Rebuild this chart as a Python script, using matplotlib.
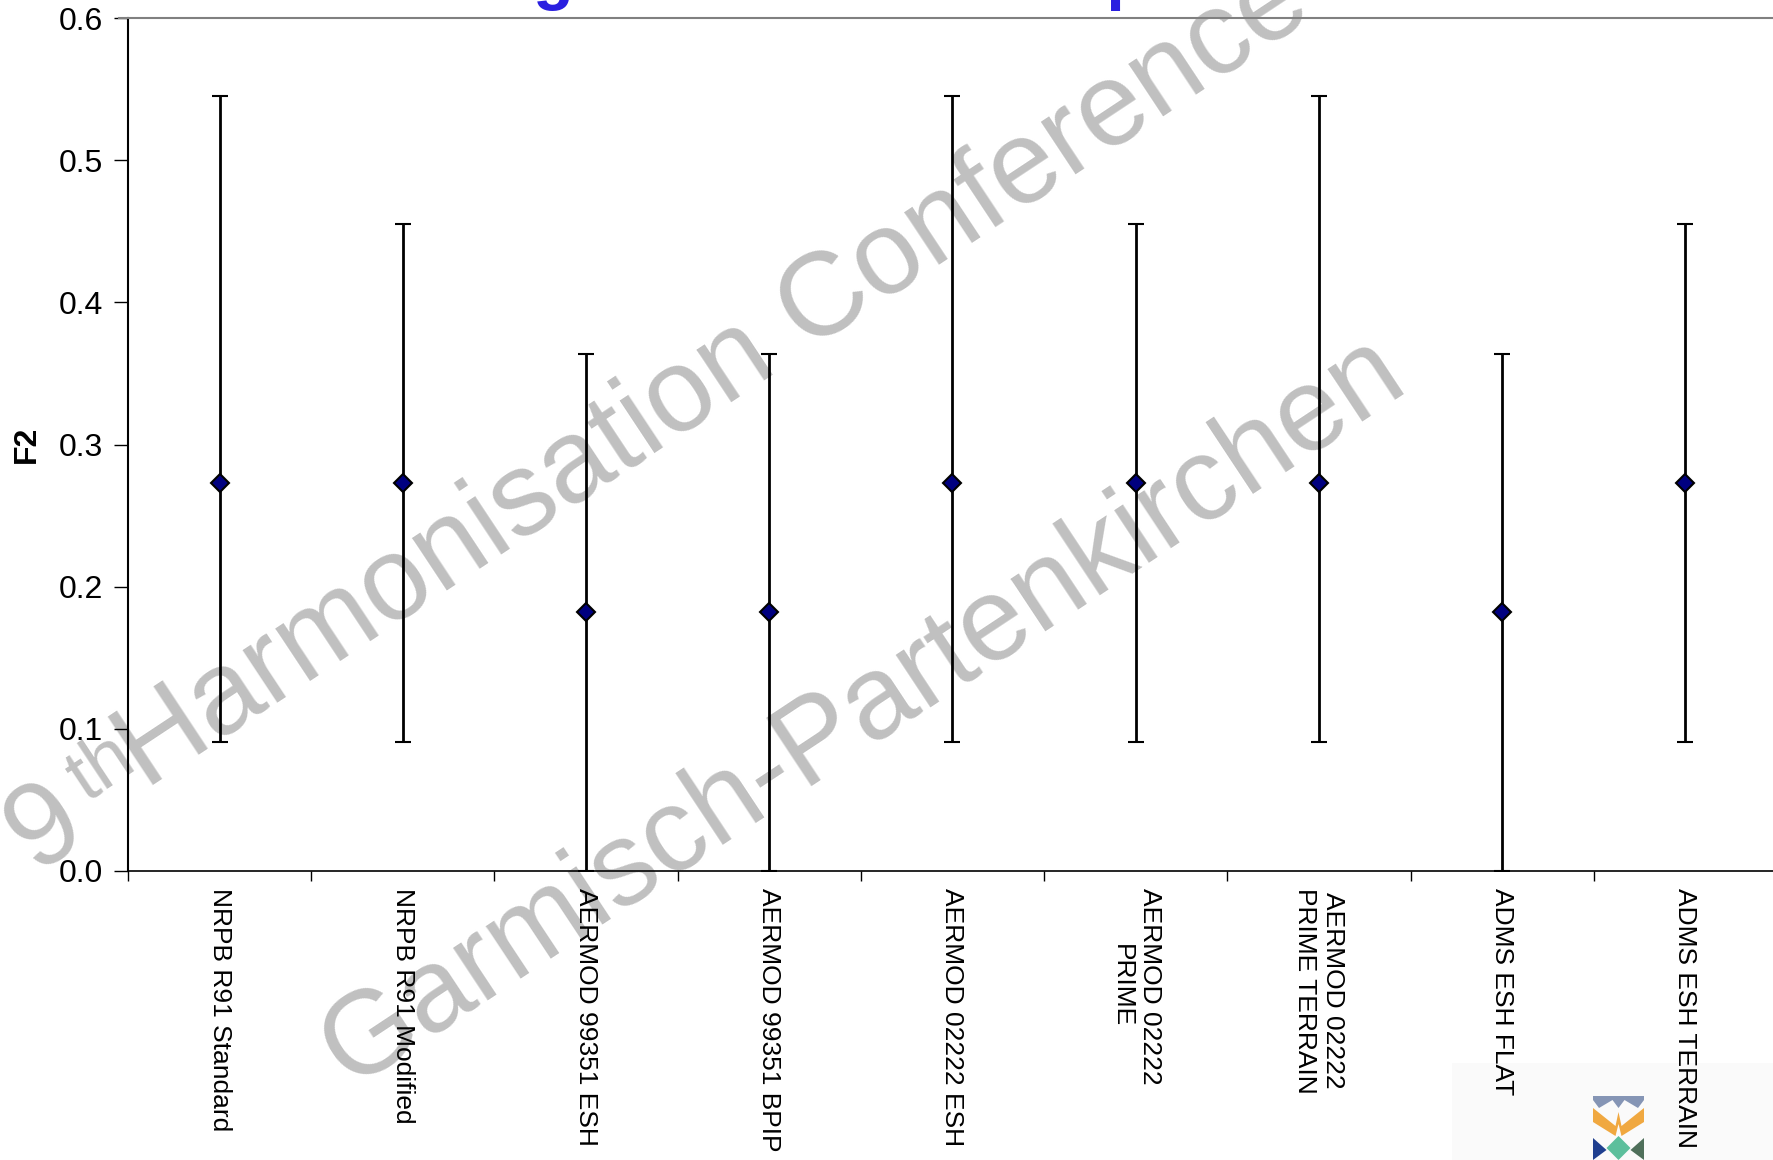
import matplotlib
matplotlib.use("Agg")
import matplotlib.pyplot as plt
import numpy as np
from matplotlib.patches import Rectangle, Polygon
from matplotlib.lines import Line2D

plt.rcParams['font.family'] = ['Liberation Sans', 'DejaVu Sans']

# model configurations and their F2 score with the interval limits
models = [
    'NRPB R91 Standard',
    'NRPB R91 Modified',
    'AERMOD 99351 ESH',
    'AERMOD 99351 BPIP',
    'AERMOD 02222 ESH',
    'AERMOD 02222\nPRIME',
    'AERMOD 02222\nPRIME TERRAIN',
    'ADMS ESH FLAT',
    'ADMS ESH TERRAIN',
]
f2 = [0.273, 0.273, 0.182, 0.182, 0.273, 0.273, 0.273, 0.182, 0.273]
f2_low = [0.091, 0.091, 0.0, 0.0, 0.091, 0.091, 0.091, 0.0, 0.091]
f2_high = [0.545, 0.455, 0.364, 0.364, 0.545, 0.455, 0.545, 0.364, 0.455]

W, H = 1774, 1160
fig = plt.figure(figsize=(W / 100, H / 100), dpi=100)


def fx(px):
    return px / W


def fy(py):
    return 1 - py / H


# slide heading, mostly cut off by the top edge
fig.text(fx(80), fy(-3), 'Measures of Agreement for Comparison of Results',
         color='#2a1fe0', fontsize=48, fontweight='bold',
         ha='left', va='baseline')

# conference watermark behind the chart
wm = dict(color='#c0c0c0', rotation=33.5, rotation_mode='anchor',
          ha='left', va='baseline', zorder=-1)
fig.text(fx(35), fy(872), '9', fontsize=85, **wm)
fig.text(fx(86), fy(802), 'th', fontsize=55, **wm)
fig.text(fx(145), fy(790), 'Harmonisation Conference', fontsize=85, **wm)
fig.text(fx(350), fy(1088), 'Garmisch-Partenkirchen', fontsize=85, **wm)

ax = fig.add_axes([fx(128), fy(871), fx(1777 - 128), (871 - 18) / H])
ax.patch.set_alpha(0)

x = np.arange(len(models))
yerr = [np.array(f2) - np.array(f2_low), np.array(f2_high) - np.array(f2)]
ax.errorbar(x, f2, yerr=yerr, fmt='D', color='black', ecolor='black',
            elinewidth=2, capsize=6, capthick=2,
            markersize=9, markerfacecolor='#000080', markeredgecolor='black',
            markeredgewidth=1.5)

ax.set_xlim(-0.5, len(models) - 0.5)
ax.set_ylim(0, 0.6)
ax.set_yticks(np.arange(0, 0.61, 0.1))
ax.yaxis.set_major_formatter(matplotlib.ticker.FormatStrFormatter('%.1f'))
ax.tick_params(axis='y', labelsize=23, length=10, width=1, direction='out', pad=8)

ax.set_xticks(x)
ax.set_xticklabels(models, rotation=270, ha='center', va='top',
                   multialignment='center', fontsize=19)
ax.tick_params(axis='x', which='major', length=0, pad=12)
ax.set_xticks(np.arange(-0.5, len(models), 1), minor=True)
ax.tick_params(axis='x', which='minor', length=7, width=1, direction='out')

ax.set_ylabel('F2', fontsize=23, fontweight='bold', labelpad=12)

ax.spines['left'].set_linewidth(1.5)
ax.spines['bottom'].set_linewidth(1.2)
ax.spines['top'].set_visible(False)
ax.spines['right'].set_visible(False)

# grey rule under the heading, running over the plot top
fig.add_artist(Line2D([fx(119), 1], [fy(18), fy(18)], color='#808080',
                      linewidth=1.5, zorder=5))

# logo panel at the bottom right
fig.patches.append(Rectangle((fx(1452), 0), fx(W - 1452), (H - 1063) / H,
                             transform=fig.transFigure, facecolor='#fafafa',
                             edgecolor='none', zorder=-2))
lx0, lx1 = 1593, 1644
lm = (lx0 + lx1) / 2


def poly(pts, color):
    fig.patches.append(Polygon([(fx(a), fy(b)) for a, b in pts], closed=True,
                               transform=fig.transFigure, facecolor=color,
                               edgecolor='none', zorder=3))


poly([(lx0, 1096), (lx1, 1096), (lx1, 1100), (lx1 - 6, 1108), (lm + 6, 1100),
      (lm, 1108), (lm - 6, 1100), (lx0 + 6, 1108), (lx0, 1100)], '#8595b5')
poly([(lx0, 1108), (lm - 3, 1126), (lm, 1112), (lm + 3, 1126), (lx1, 1108),
      (lx1, 1122), (lm + 3, 1136), (lm, 1124), (lm - 3, 1136), (lx0, 1122)],
     '#f0a840')
poly([(lx0, 1138), (lm - 12, 1150), (lx0, 1160)], '#1f3f8f')
poly([(lm, 1136), (lm + 12, 1148), (lm, 1160), (lm - 12, 1148)], '#5cbf9c')
poly([(lx1, 1138), (lx1, 1160), (lm + 12, 1150)], '#4f6f5a')

fig.savefig('out.png', dpi=100)
